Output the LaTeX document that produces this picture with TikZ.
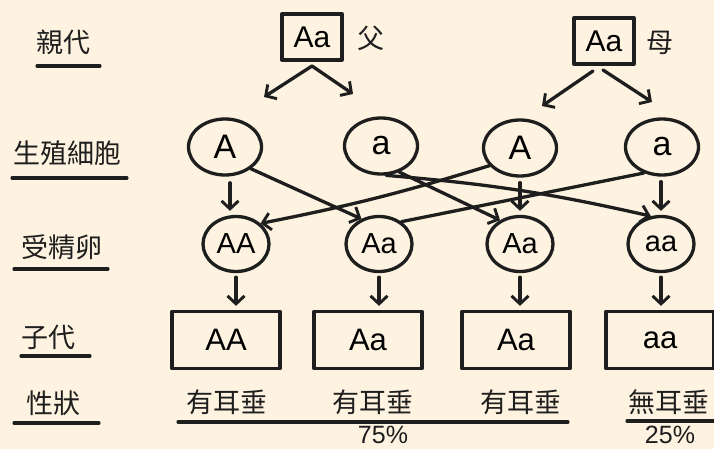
\documentclass[tikz,border=0pt]{standalone}
\usepackage{fontspec}
\setmainfont{Liberation Sans}
\newfontfamily\cjk{Noto Sans CJK TC}
\usetikzlibrary{arrows.meta,shapes.geometric}
\definecolor{bg}{RGB}{253,243,224}
\definecolor{ink}{RGB}{30,30,30}
\begin{document}
\begin{tikzpicture}[x=1pt,y=-1pt,
  ln/.style={line width=3.3pt, draw=ink, line cap=round, line join=round},
  arr/.style={ln, -{Straight Barb[length=8pt,width=17pt,line width=2.9pt]}},
  par/.style={rectangle, ln, minimum width=60pt, minimum height=46pt, inner sep=0pt, font=\fontsize{30}{30}\selectfont},
  gam/.style={ellipse, ln, minimum width=73pt, minimum height=56pt, inner sep=0pt, font=\fontsize{34}{34}\selectfont},
  zyg/.style={ellipse, ln, minimum width=66pt, minimum height=55pt, inner sep=0pt, font=\fontsize{29}{29}\selectfont},
  kid/.style={rectangle, ln, minimum width=108pt, minimum height=57pt, inner sep=0pt, font=\fontsize{31}{31}\selectfont},
  lab/.style={inner sep=0pt, text=ink, font=\cjk\fontsize{27}{27}\selectfont},
  pct/.style={inner sep=0pt, text=ink, font=\fontsize{25}{25}\selectfont},
  uline/.style={line width=3.1pt, draw=ink, line cap=round}]
\useasboundingbox[fill=bg] (0,0) rectangle (714,449);

% row labels
\node[lab] (L1) at (63,42) {親代};
\node[lab] (L2) at (67,153) {生殖細胞};
\node[lab] (L3) at (62,247) {受精卵};
\node[lab] (L4) at (48,337) {子代};
\node[lab] (L5) at (53,403) {性狀};
\draw[uline] (37,66) -- (100,66);
\draw[uline] (12,178) -- (127,178);
\draw[uline] (14,269) -- (108,269);
\draw[uline] (21,356) -- (90,356);
\draw[uline] (14,423) -- (99,423);

% parents
\node[par] (F) at (312,37) {Aa};
\node[lab] (Ft) at (371,38) {父};
\node[par] (M) at (604,41) {Aa};
\node[lab] (Mt) at (660,43) {母};
\coordinate (f0) at (312,66);
\coordinate (f1) at (264,97);
\coordinate (f2) at (353,94);
\coordinate (m0) at (593,71);
\coordinate (m0b) at (603,70);
\coordinate (m1) at (542,106);
\coordinate (m2) at (652,102);
\draw[arr] (f0) -- (f1);
\draw[arr] (f0) -- (f2);
\draw[arr] (m0) -- (m1);
\draw[arr] (m0b) -- (m2);

% gametes
\node[gam] (G1) at (225,147) {A};
\node[gam] (G2) at (381,146) {a};
\node[gam] (G3) at (520,148) {A};
\node[gam] (G4) at (662,147) {a};

% zygotes
\node[zyg] (Z1) at (236,244) {AA};
\node[zyg] (Z2) at (379,244) {Aa};
\node[zyg] (Z3) at (520,244) {Aa};
\node[zyg] (Z4) at (661,244) {aa};

% gamete -> zygote
\draw[arr, shorten <=5pt, shorten >=4pt] (Z1.north -| 230,0) ++(0,-37) -- (Z1.north -| 230,0);
\draw[arr, shorten <=5pt, shorten >=4pt] (Z3.north |- G3.south) -- (Z3.north);
\draw[arr, shorten <=5pt, shorten >=4pt] (Z4.north |- G4.south) -- (Z4.north);
\draw[arr] (G1.-40) -- (Z2.125);
\draw[arr] (G2.-55) -- (Z3.130);
\draw[arr] (G2.-80) to[bend left=4] (Z4.110);
\draw[arr] (G3.210) to[bend left=3] (Z1.40);
\draw[ln] (G4.235) -- (Z2.45);

% offspring
\node[kid] (K1) at (226,340) {AA};
\node[kid] (K2) at (368,340) {Aa};
\node[kid] (K3) at (516,340) {Aa};
\node[kid] (K4) at (660,340) {aa};
\draw[arr, shorten <=4pt, shorten >=4pt] (Z1.south) -- (Z1.south |- K1.north);
\draw[arr, shorten <=4pt, shorten >=4pt] (Z2.south) -- (Z2.south |- K2.north);
\draw[arr, shorten <=4pt, shorten >=4pt] (Z3.south) -- (Z3.south |- K3.north);
\draw[arr, shorten <=4pt, shorten >=4pt] (Z4.south) -- (Z4.south |- K4.north);

% traits
\node[lab] (T1) at (227,402) {有耳垂};
\node[lab] (T2) at (373,402) {有耳垂};
\node[lab] (T3) at (521,402) {有耳垂};
\node[lab] (T4) at (669,402) {無耳垂};
\draw[uline] (178,422) -- (568,422);
\draw[uline] (627,421) -- (714,421);
\node[pct] (P1) at (383,434.5) {75\%};
\node[pct] (P2) at (670,434.5) {25\%};
\end{tikzpicture}
\end{document}
